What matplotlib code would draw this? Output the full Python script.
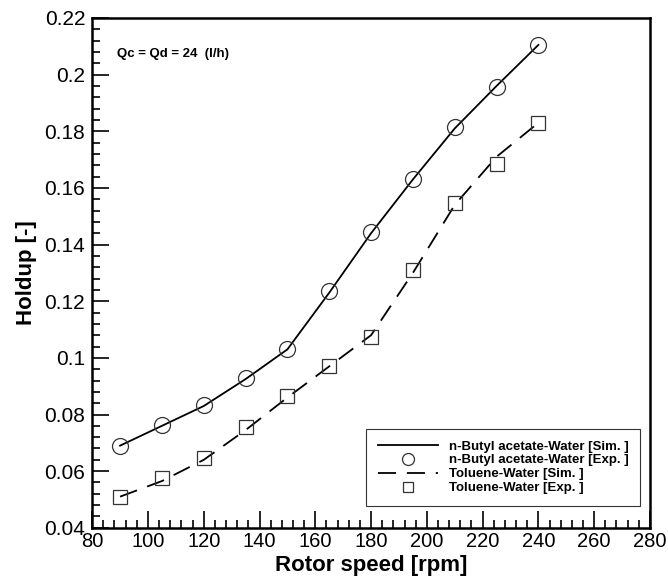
import numpy as np
import matplotlib
matplotlib.use("Agg")
import matplotlib.pyplot as plt
from matplotlib.ticker import MultipleLocator, FormatStrFormatter

# rotor speed [rpm]
speed = [90, 105, 120, 135, 150, 165, 180, 195, 210, 225, 240]

# n-Butyl acetate-Water
butyl_sim = [0.0690, 0.0760, 0.0830, 0.0925, 0.1030, 0.1230, 0.1440, 0.1630, 0.1810, 0.1960, 0.2105]
butyl_exp = [0.0690, 0.0762, 0.0834, 0.0930, 0.1030, 0.1235, 0.1445, 0.1630, 0.1815, 0.1958, 0.2105]

# Toluene-Water
tol_sim = [0.0510, 0.0565, 0.0640, 0.0745, 0.0860, 0.0970, 0.1080, 0.1300, 0.1540, 0.1710, 0.1830]
tol_exp = [0.0510, 0.0575, 0.0645, 0.0755, 0.0865, 0.0970, 0.1075, 0.1310, 0.1545, 0.1685, 0.1830]

plt.rcParams.update({
    "font.family": "sans-serif",
    "font.sans-serif": ["Liberation Sans", "DejaVu Sans"],
})

fig = plt.figure(figsize=(6.68, 5.80), dpi=100)
ax = fig.add_axes([0.138, 0.09, 0.835, 0.879])

ax.plot(speed, butyl_sim, color="black", linewidth=1.3, label="n-Butyl acetate-Water [Sim. ]")
ax.plot(speed, butyl_exp, linestyle="none", marker="o", markersize=11.5,
        markerfacecolor="none", markeredgecolor="#333333", markeredgewidth=0.9,
        label="n-Butyl acetate-Water [Exp. ]")
ax.plot(speed, tol_sim, color="black", linewidth=1.3, dashes=(10, 6),
        label="Toluene-Water [Sim. ]")
ax.plot(speed, tol_exp, linestyle="none", marker="s", markersize=9.5,
        markerfacecolor="none", markeredgecolor="#333333", markeredgewidth=0.9,
        label="Toluene-Water [Exp. ]")

ax.set_xlim(80, 280)
ax.set_ylim(0.04, 0.22)
ax.xaxis.set_major_locator(MultipleLocator(20))
ax.xaxis.set_minor_locator(MultipleLocator(4))
ax.yaxis.set_major_locator(MultipleLocator(0.02))
ax.yaxis.set_minor_locator(MultipleLocator(0.004))
ax.yaxis.set_major_formatter(FormatStrFormatter("%g"))

ax.tick_params(which="both", direction="in", top=False, right=False, width=1.2)
ax.tick_params(which="major", length=12)
ax.tick_params(axis="y", which="major", labelsize=15, pad=5)
ax.tick_params(axis="x", which="major", labelsize=14.5, pad=3)
ax.tick_params(which="minor", length=6)
for s in ax.spines.values():
    s.set_linewidth(1.8)

ax.set_xlabel("Rotor speed [rpm]", fontsize=16, fontweight="bold", labelpad=3)
ax.set_ylabel("Holdup [-]", fontsize=16, fontweight="bold", labelpad=5)

ax.text(0.045, 0.93, "Qc = Qd = 24  (l/h)", transform=ax.transAxes,
        fontsize=9.5, fontweight="bold", va="center")

leg = ax.legend(loc="lower right", bbox_to_anchor=(0.99, 0.035), frameon=True,
                fancybox=False, edgecolor="black",
                prop={"weight": "bold", "size": 9.5}, handlelength=4.6,
                markerscale=0.75, labelspacing=0.12, borderpad=0.9,
                handletextpad=0.8, borderaxespad=0.3)
leg.get_frame().set_linewidth(0.8)

fig.savefig("out.png", dpi=100, facecolor="white")
